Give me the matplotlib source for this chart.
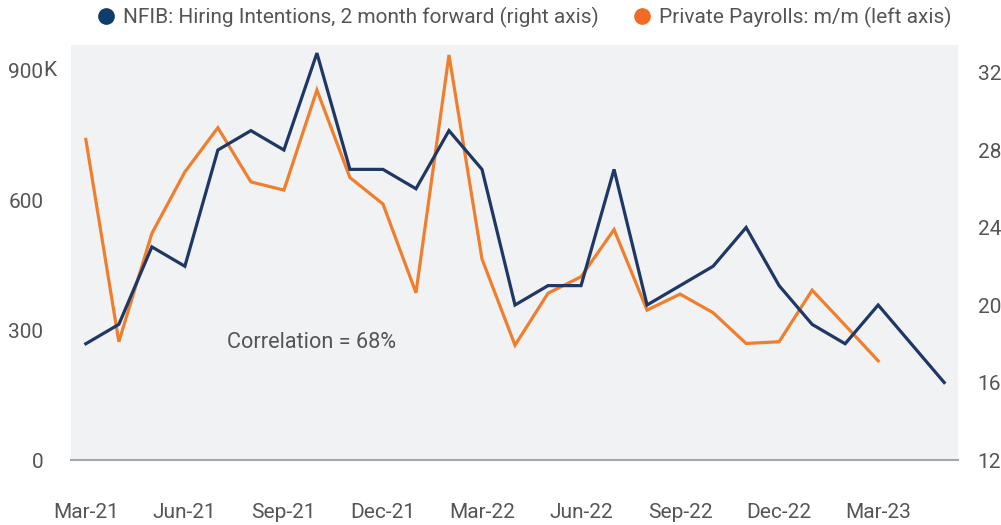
import matplotlib

matplotlib.use("Agg")
import matplotlib.pyplot as plt
from matplotlib.lines import Line2D

OUTPUT_IMAGE: str = "out.png"

months: list[str] = [
    "Mar-21", "Apr-21", "May-21", "Jun-21", "Jul-21", "Aug-21", "Sep-21",
    "Oct-21", "Nov-21", "Dec-21", "Jan-22", "Feb-22", "Mar-22", "Apr-22",
    "May-22", "Jun-22", "Jul-22", "Aug-22", "Sep-22", "Oct-22", "Nov-22",
    "Dec-22", "Jan-23", "Feb-23", "Mar-23", "Apr-23", "May-23",
]

# NFIB hiring plans, shifted 2 months forward (right axis, %)
nfib_hiring: list[float] = [
    18, 19, 23, 22, 28, 29, 28, 33, 27, 27, 26, 29, 27, 20,
    21, 21, 27, 20, 21, 22, 24, 21, 19, 18, 20, 18, 16,
]

# private payrolls m/m change, thousands (left axis), ends Mar-23
payrolls: list[float] = [
    740, 273, 523, 665, 767, 642, 623, 854, 652, 591, 386, 935, 464,
    265, 385, 423, 532, 346, 383, 340, 269, 273, 392, 311, 229,
]

tick_labels: list[str] = months[::3]
left_ticks: list[int] = [0, 300, 600, 900]
right_ticks: list[int] = [12, 16, 20, 24, 28, 32]

NAVY = "#1f3764"
ORANGE = "#ef7f2d"
TEXT = "#555555"

plt.rcParams["font.family"] = ["Roboto", "DejaVu Sans"]

fig = plt.figure(figsize=(10.01, 5.25), dpi=100)
ax = fig.add_axes([0.0709, 0.1238, 0.8862, 0.7905])
ax.set_facecolor("#f1f2f4")
ax2 = ax.twinx()

x_pay = list(range(len(payrolls)))
x_nfib = list(range(len(nfib_hiring)))

ax.plot(x_pay, payrolls, color=ORANGE, lw=2.3, solid_joinstyle="miter")
ax2.plot(x_nfib, nfib_hiring, color=NAVY, lw=2.3, solid_joinstyle="miter")

ax.set_xlim(-0.45, 26.42)
ax.set_ylim(0, 958)
ax2.set_ylim(12, 33.42)

ax.set_xticks(range(0, len(months), 3))
ax.set_xticklabels(tick_labels)
ax.set_yticks(left_ticks)
ax.set_yticklabels([str(v) for v in left_ticks])
ax2.set_yticks(right_ticks)

for spine in ["top", "left", "right"]:
    ax.spines[spine].set_visible(False)
    ax2.spines[spine].set_visible(False)
ax2.spines["bottom"].set_visible(False)
ax.spines["bottom"].set_color("#a3a6aa")
ax.spines["bottom"].set_linewidth(1.5)

ax.tick_params(axis="x", length=0, pad=31, labelsize=15, labelcolor=TEXT)
ax.tick_params(axis="y", length=0, pad=20, labelsize=15, labelcolor=TEXT)
ax2.tick_params(axis="y", length=0, pad=14, labelsize=15, labelcolor=TEXT)

# unit suffix hangs past the aligned digits
ax.annotate("K", xy=(0, left_ticks[-1]), xycoords=("axes fraction", "data"),
            xytext=(-20, 0), textcoords="offset points",
            ha="left", va="center", fontsize=15, color=TEXT)

ax.text(0.176, 0.282, "Correlation = 68%", transform=ax.transAxes,
        fontsize=15.6, color=TEXT, va="center", ha="left")

handles = [
    Line2D([], [], marker="o", ls="none", color="#0f3d6b", markersize=11),
    Line2D([], [], marker="o", ls="none", color="#f26b22", markersize=11),
]
fig.legend(
    handles,
    ["NFIB: Hiring Intentions, 2 month forward (right axis)",
     "Private Payrolls: m/m (left axis)"],
    loc="center", bbox_to_anchor=(0.523, 0.966), ncol=2, frameon=False,
    fontsize=15, labelcolor=TEXT, handletextpad=0.3, columnspacing=1.6,
    handlelength=1.0,
)

fig.savefig(OUTPUT_IMAGE, dpi=100)
plt.close(fig)
